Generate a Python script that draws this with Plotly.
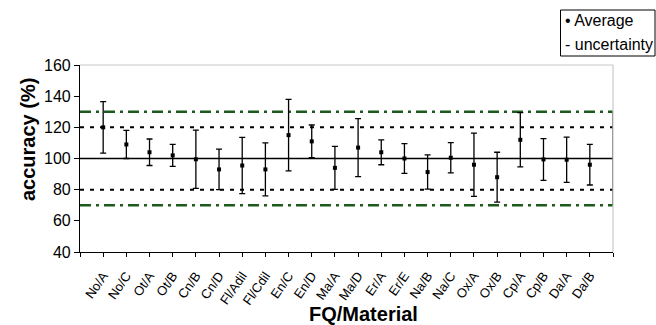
import plotly.graph_objects as go

categories = ["No/A", "No/C", "Ot/A", "Ot/B", "Cn/B", "Cn/D", "Fl/Adil", "Fl/Cdil",
              "En/C", "En/D", "Ma/A", "Ma/D", "Er/A", "Er/E", "Na/B", "Na/C",
              "Ox/A", "Ox/B", "Cp/A", "Cp/B", "Da/A", "Da/B"]
average = [120, 109, 104, 102, 99.5, 93, 95.5, 93, 115, 111, 94, 107,
           104, 100, 91.3, 100.5, 96, 88, 112, 99.4, 99.2, 96]
uncertainty = [16.5, 9, 8.5, 7, 18.7, 13, 18, 17, 23, 10.5, 13.8, 18.6,
               8, 9.5, 11, 9.7, 20.3, 16, 17.4, 13.4, 14.5, 13]
ref_solid = 100
ref_dotted = [80, 120]
ref_dashdot = [70, 130]
y_ticks = [40, 60, 80, 100, 120, 140, 160]

FONT = "'Liberation Sans', Arial, sans-serif"
W, H = 656, 325
L, R, T, B = 80, 613, 65, 252

n = len(categories)
xs = list(range(n))
x_lo, x_hi = -1, n

fig = go.Figure()

# reference lines
for v in ref_dashdot:
    fig.add_trace(go.Scatter(x=[x_lo, x_hi], y=[v, v], mode="lines",
                             line=dict(color="#1d5a1d", width=2.4, dash="11px,5px,3px,5px"),
                             hoverinfo="skip", showlegend=False))
for v in ref_dotted:
    fig.add_trace(go.Scatter(x=[x_lo, x_hi], y=[v, v], mode="lines",
                             line=dict(color="black", width=2, dash="4px,6px"),
                             hoverinfo="skip", showlegend=False))
fig.add_trace(go.Scatter(x=[x_lo, x_hi], y=[ref_solid, ref_solid], mode="lines",
                         line=dict(color="black", width=1.6),
                         hoverinfo="skip", showlegend=False))
# right end connector
fig.add_trace(go.Scatter(x=[x_hi, x_hi], y=[min(ref_dashdot), max(ref_dashdot)], mode="lines",
                         line=dict(color="black", width=1.3),
                         hoverinfo="skip", showlegend=False, cliponaxis=False))

# data
fig.add_trace(go.Scatter(x=xs, y=average, mode="markers",
                         marker=dict(color="black", size=4, symbol="square"),
                         error_y=dict(type="data", array=uncertainty, visible=True,
                                      color="black", thickness=1.3, width=3),
                         showlegend=False))

def px_x(p):
    return (p - L) / (R - L)

def px_y(p):
    return (B - p) / (B - T)

shapes = [
    dict(type="line", xref="paper", yref="paper", x0=0, x1=1, y0=1, y1=1,
         line=dict(color="#c8c8c8", width=1.2)),
    dict(type="line", xref="paper", yref="paper", x0=1, x1=1, y0=0, y1=1,
         line=dict(color="#c8c8c8", width=1.2)),
    dict(type="rect", xref="paper", yref="paper",
         x0=px_x(560.5), x1=px_x(655), y0=px_y(56), y1=px_y(10),
         line=dict(color="black", width=1), fillcolor="white"),
]

annotations = [
    dict(text="• Average", xref="paper", yref="paper", x=px_x(563), y=px_y(21),
         xanchor="left", yanchor="middle", showarrow=False,
         font=dict(family=FONT, size=16, color="black")),
    dict(text="- uncertainty", xref="paper", yref="paper", x=px_x(563), y=px_y(44),
         xanchor="left", yanchor="middle", showarrow=False,
         font=dict(family=FONT, size=16, color="black")),
    dict(text="<b>accuracy (%)</b>", xref="paper", yref="paper", x=px_x(28), y=px_y(140),
         xanchor="center", yanchor="middle", textangle=-90, showarrow=False,
         font=dict(family=FONT, size=20, color="black")),
    dict(text="<b>FQ/Material</b>", xref="paper", yref="paper", x=px_x(363), y=px_y(314),
         xanchor="center", yanchor="middle", showarrow=False,
         font=dict(family=FONT, size=20, color="black")),
]

fig.update_layout(
    width=W, height=H,
    margin=dict(l=L, r=W - R, t=T, b=H - B, pad=0),
    paper_bgcolor="white", plot_bgcolor="white",
    showlegend=False,
    shapes=shapes, annotations=annotations,
    font=dict(family=FONT, color="black"),
)
fig.update_xaxes(range=[x_lo, x_hi], tickmode="array",
                 tickvals=list(range(x_lo, x_hi + 1)),
                 ticktext=[""] + categories + [""],
                 tickangle=-55, tickfont=dict(size=13, family=FONT),
                 ticks="outside", ticklen=4, tickcolor="black",
                 ticklabelstandoff=6,
                 showline=True, linecolor="black", linewidth=1.2,
                 showgrid=False, zeroline=False)
fig.update_yaxes(range=[40, 160], tickmode="array", tickvals=y_ticks,
                 tickfont=dict(size=16, family=FONT),
                 ticks="outside", ticklen=5, tickcolor="black",
                 showline=True, linecolor="black", linewidth=1.2,
                 showgrid=False, zeroline=False)

fig.write_html("out.html", config={"displayModeBar": False},
               post_script="document.body.style.margin='0px';document.body.style.padding='0px';")
